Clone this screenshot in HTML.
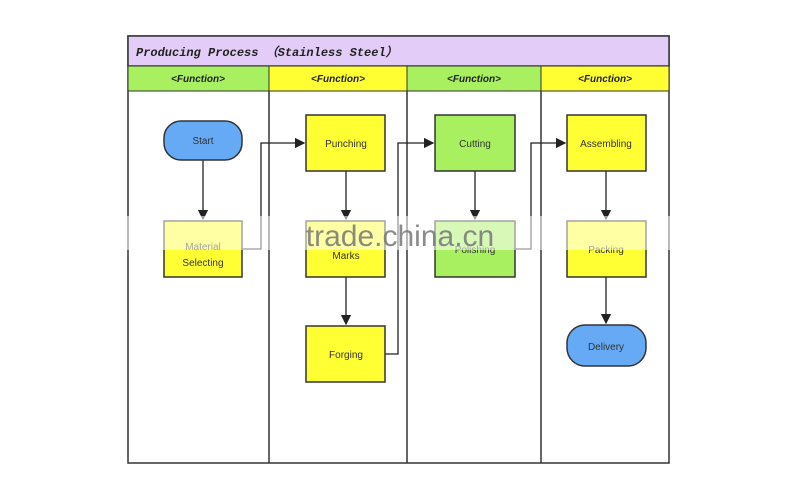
<!DOCTYPE html>
<html><head><style>body{margin:0;background:#fff}</style></head><body>
<svg width="800" height="491" xmlns="http://www.w3.org/2000/svg" font-family="Liberation Sans, Arial, sans-serif">
<defs><marker id="a" markerWidth="8" markerHeight="8" refX="7" refY="4" orient="auto"><path d="M0,0L8,4L0,8z" fill="#222"/></marker></defs>
<rect x="128" y="36" width="541" height="427" fill="#fff" stroke="#333" stroke-width="1.5"/>
<rect x="128" y="36" width="541" height="30" fill="#e3cdf8" stroke="#333" stroke-width="1.5"/>
<text x="136" y="56" font-family="Liberation Mono, monospace" font-style="italic" font-weight="bold" font-size="12" fill="#222">Producing Process （Stainless Steel）</text>
<rect x="128" y="66" width="141" height="25" fill="#a8f060" stroke="#333"/>
<rect x="269" y="66" width="138" height="25" fill="#ffff33" stroke="#333"/>
<rect x="407" y="66" width="134" height="25" fill="#a8f060" stroke="#333"/>
<rect x="541" y="66" width="128" height="25" fill="#ffff33" stroke="#333"/>
<g font-size="10" font-style="italic" font-weight="bold" text-anchor="middle" fill="#222">
<text x="198" y="82">&lt;Function&gt;</text><text x="338" y="82">&lt;Function&gt;</text><text x="474" y="82">&lt;Function&gt;</text><text x="605" y="82">&lt;Function&gt;</text></g>
<g stroke="#333" stroke-width="1.5"><line x1="269" y1="91" x2="269" y2="463"/><line x1="407" y1="91" x2="407" y2="463"/><line x1="541" y1="91" x2="541" y2="463"/></g>
<g stroke="#222" stroke-width="1.3" fill="none" marker-end="url(#a)">
<line x1="203" y1="160" x2="203" y2="219"/>
<line x1="346" y1="171" x2="346" y2="219"/>
<line x1="346" y1="277" x2="346" y2="324"/>
<line x1="475" y1="171" x2="475" y2="219"/>
<line x1="606" y1="171" x2="606" y2="219"/>
<line x1="606" y1="277" x2="606" y2="323"/>
<polyline points="242,249 261,249 261,143 304,143"/>
<polyline points="385,354 398,354 398,143 433,143"/>
<polyline points="515,249 531,249 531,143 565,143"/>
</g>
<g stroke="#333" stroke-width="1.5">
<rect x="164" y="121" width="78" height="39" rx="17" fill="#66aaf5"/>
<rect x="164" y="221" width="78" height="56" fill="#ffff33"/>
<rect x="306" y="115" width="79" height="56" fill="#ffff33"/>
<rect x="306" y="221" width="79" height="56" fill="#ffff33"/>
<rect x="306" y="326" width="79" height="56" fill="#ffff33"/>
<rect x="435" y="115" width="80" height="56" fill="#a8f060"/>
<rect x="435" y="221" width="80" height="56" fill="#a8f060"/>
<rect x="567" y="115" width="79" height="56" fill="#ffff33"/>
<rect x="567" y="221" width="79" height="56" fill="#ffff33"/>
<rect x="567" y="325" width="79" height="41" rx="18" fill="#66aaf5"/>
</g>
<g font-size="10" text-anchor="middle" fill="#333">
<text x="203" y="144">Start</text>
<text x="203" y="250">Material</text><text x="203" y="266">Selecting</text>
<text x="346" y="147">Punching</text>
<text x="346" y="259">Marks</text>
<text x="346" y="358">Forging</text>
<text x="475" y="147">Cutting</text>
<text x="475" y="253">Polishing</text>
<text x="606" y="147">Assembling</text>
<text x="606" y="253">Packing</text>
<text x="606" y="350">Delivery</text>
</g>
<rect x="120" y="216" width="560" height="34" fill="#fff" opacity="0.55"/>
<text x="400" y="246" font-size="30" text-anchor="middle" fill="#777" opacity="0.85">trade.china.cn</text>
</svg>
</body></html>
